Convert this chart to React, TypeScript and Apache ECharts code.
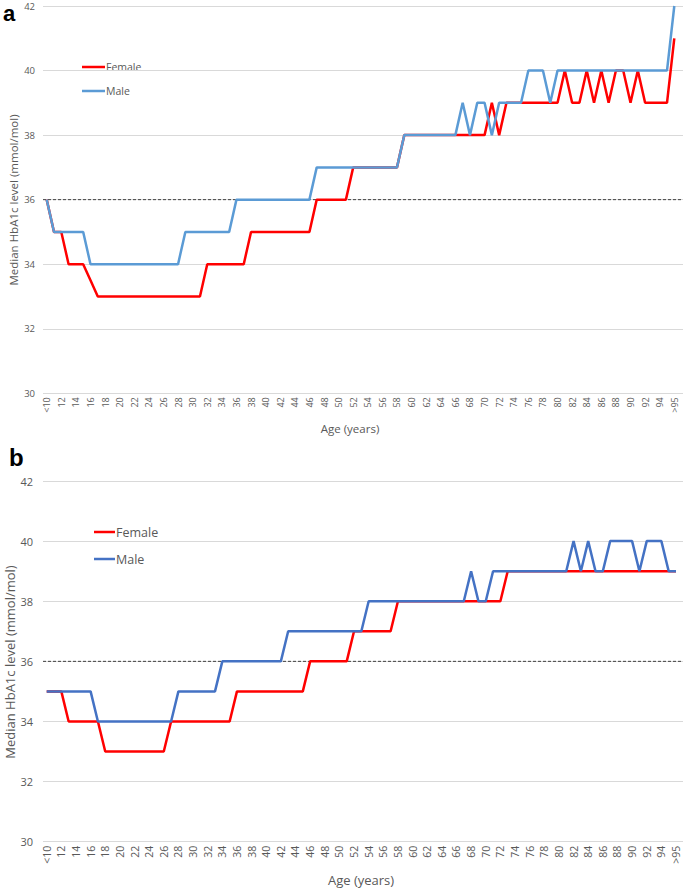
import React, { useEffect, useRef } from "react";
import * as echarts from "echarts";

const ages: string[] = ["<10"];
for (let a = 11; a <= 95; a++) ages.push(String(a));
ages.push(">95");

// Panel a
const femaleA = [36, 35, 35, 34, 34, 34, 33.5,
  33, 33, 33, 33, 33, 33, 33, 33, 33, 33, 33, 33, 33, 33, 33,
  34, 34, 34, 34, 34, 34,
  35, 35, 35, 35, 35, 35, 35, 35, 35,
  36, 36, 36, 36, 36,
  37, 37, 37, 37, 37, 37, 37,
  38, 38, 38, 38, 38, 38, 38, 38, 38, 38, 38, 38,
  39, 38,
  39, 39, 39, 39, 39, 39, 39, 39,
  40, 39, 39, 40, 39, 40, 39, 40, 40, 39, 40,
  39, 39, 39, 39,
  41];
const maleA = [36,
  35, 35, 35, 35, 35,
  34, 34, 34, 34, 34, 34, 34, 34, 34, 34, 34, 34, 34,
  35, 35, 35, 35, 35, 35, 35,
  36, 36, 36, 36, 36, 36, 36, 36, 36, 36, 36,
  37, 37, 37, 37, 37, 37, 37, 37, 37, 37, 37, 37,
  38, 38, 38, 38, 38, 38, 38, 38,
  39, 38, 39, 39, 38,
  39, 39, 39, 39,
  40, 40, 40, 39,
  40, 40, 40, 40, 40, 40, 40, 40, 40, 40, 40, 40, 40, 40, 40, 40,
  42];

// Panel b
const femaleB = [35, 35, 35,
  34, 34, 34, 34, 34,
  33, 33, 33, 33, 33, 33, 33, 33, 33,
  34, 34, 34, 34, 34, 34, 34, 34, 34,
  35, 35, 35, 35, 35, 35, 35, 35, 35, 35,
  36, 36, 36, 36, 36, 36,
  37, 37, 37, 37, 37, 37,
  38, 38, 38, 38, 38, 38, 38, 38, 38, 38, 38, 38, 38, 38, 38,
  39, 39, 39, 39, 39, 39, 39, 39, 39, 39, 39, 39, 39, 39, 39, 39, 39, 39, 39, 39, 39, 39, 39, 39];
const maleB = [35, 35, 35, 35, 35, 35, 35,
  34, 34, 34, 34, 34, 34, 34, 34, 34, 34, 34,
  35, 35, 35, 35, 35, 35,
  36, 36, 36, 36, 36, 36, 36, 36, 36,
  37, 37, 37, 37, 37, 37, 37, 37, 37, 37, 37,
  38, 38, 38, 38, 38, 38, 38, 38, 38, 38, 38, 38, 38, 38,
  39, 38, 38,
  39, 39, 39, 39, 39, 39, 39, 39, 39, 39, 39,
  40, 39, 40, 39, 39,
  40, 40, 40, 40,
  39, 40, 40, 40, 39, 39];

const threshold = 36;
const yMin = 30;
const yMax = 42;
const yStep = 2;

const FONT = "'Open Sans', 'Noto Sans', sans-serif";
const GREY = "#595959";
const RED = "#FF0000";
const BLUE_A = "#5B9BD5";
const BLUE_B = "#4472C4";

export default function App() {
  const ref = useRef<HTMLDivElement>(null);
  useEffect(() => {
    if (!ref.current) return;
    const chart = echarts.init(ref.current, null, { renderer: "svg" });

    const panels = [
      { top: 6, height: 387.3, tightRight: 10.7, xFont: 9, yFont: 9.5, yMargin: 8, blue: BLUE_A, f: femaleA, m: maleA },
      { top: 481, height: 360.7, tightRight: 9, xFont: 10.5, yFont: 11, yMargin: 10, blue: BLUE_B, f: femaleB, m: maleB },
    ];

    const grid: any[] = [];
    const xAxis: any[] = [];
    const yAxis: any[] = [];
    const series: any[] = [];

    panels.forEach((p, k) => {
      const wi = k * 2; // wide grid
      const ti = k * 2 + 1; // tight grid
      grid.push({ left: 43, width: 640, top: p.top, height: p.height });
      grid.push({ left: 46.7, right: p.tightRight, top: p.top, height: p.height });
      xAxis.push({ type: "value", gridIndex: wi, min: 0, max: 1, show: false });
      xAxis.push({
        type: "category", gridIndex: ti, data: ages, boundaryGap: false,
        axisLine: { show: false }, axisTick: { show: false },
        axisLabel: { interval: 1, rotate: 90, fontSize: p.xFont, color: GREY, fontFamily: FONT, margin: 4 },
      });
      yAxis.push({
        type: "value", gridIndex: wi, min: yMin, max: yMax, interval: yStep,
        axisLine: { show: false }, axisTick: { show: false },
        axisLabel: { fontSize: p.yFont, color: GREY, fontFamily: FONT, margin: p.yMargin },
        splitLine: { lineStyle: { color: "#D9D9D9", width: 1 } },
      });
      yAxis.push({ type: "value", gridIndex: ti, min: yMin, max: yMax, interval: yStep, show: false, splitLine: { show: false } });
      series.push({
        type: "line", xAxisIndex: wi, yAxisIndex: wi, data: [[0, threshold], [1, threshold]],
        symbol: "none", lineStyle: { color: "#404040", width: 1, type: [3, 2] }, z: 1,
      });
      series.push({
        name: "Female", type: "line", xAxisIndex: ti, yAxisIndex: ti, data: p.f,
        symbol: "none", lineStyle: { color: RED, width: 2.5 }, z: 2,
      });
      series.push({
        name: "Male", type: "line", xAxisIndex: ti, yAxisIndex: ti, data: p.m,
        symbol: "none", lineStyle: { color: p.blue, width: 2.5 }, z: 3,
      });
    });

    const txt = (text: string, x: number, y: number, size: number, opts: any = {}) => ({
      type: "text", x, y, rotation: opts.rotation || 0,
      style: {
        text, fill: opts.fill || GREY, font: `${opts.weight || "normal"} ${size}px ${opts.family || FONT}`,
        textAlign: opts.align || "center", textVerticalAlign: "middle", verticalAlign: "middle",
      },
    });

    const graphic: any[] = [
      txt("a", 3, 13, 22, { weight: "bold", family: "'Liberation Sans', Arial, sans-serif", fill: "#000", align: "left" }),
      txt("b", 9, 457, 24, { weight: "bold", family: "'Liberation Sans', Arial, sans-serif", fill: "#000", align: "left" }),
      txt("Median HbA1c level (mmol/mol)", 13, 200, 11.5, { rotation: Math.PI / 2 }),
      txt("Median HbA1c level (mmol/mol)", 10, 662, 13, { rotation: Math.PI / 2 }),
      txt("Age (years)", 350, 428, 11.5),
      txt("Age (years)", 361, 880, 13),
      { type: "line", shape: { x1: 82, y1: 67, x2: 105, y2: 67 }, style: { stroke: RED, lineWidth: 2.5 } },
      { type: "line", shape: { x1: 82, y1: 91, x2: 105, y2: 91 }, style: { stroke: BLUE_A, lineWidth: 2.5 } },
      txt("Female", 106, 67, 10.5, { align: "left" }),
      txt("Male", 106, 91, 10.5, { align: "left" }),
      { type: "line", shape: { x1: 94, y1: 532, x2: 115, y2: 532 }, style: { stroke: RED, lineWidth: 2.5 } },
      { type: "line", shape: { x1: 94, y1: 559, x2: 115, y2: 559 }, style: { stroke: BLUE_B, lineWidth: 2.5 } },
      txt("Female", 116, 532, 12.5, { align: "left" }),
      txt("Male", 116, 559, 12.5, { align: "left" }),
    ];

    chart.setOption({
      animation: false,
      backgroundColor: "#fff",
      textStyle: { fontFamily: FONT },
      grid, xAxis, yAxis, series, graphic,
    });
    return () => chart.dispose();
  }, []);
  return <div ref={ref} style={{ position: "absolute", left: 0, top: 0, width: 685, height: 890 }} />;
}
